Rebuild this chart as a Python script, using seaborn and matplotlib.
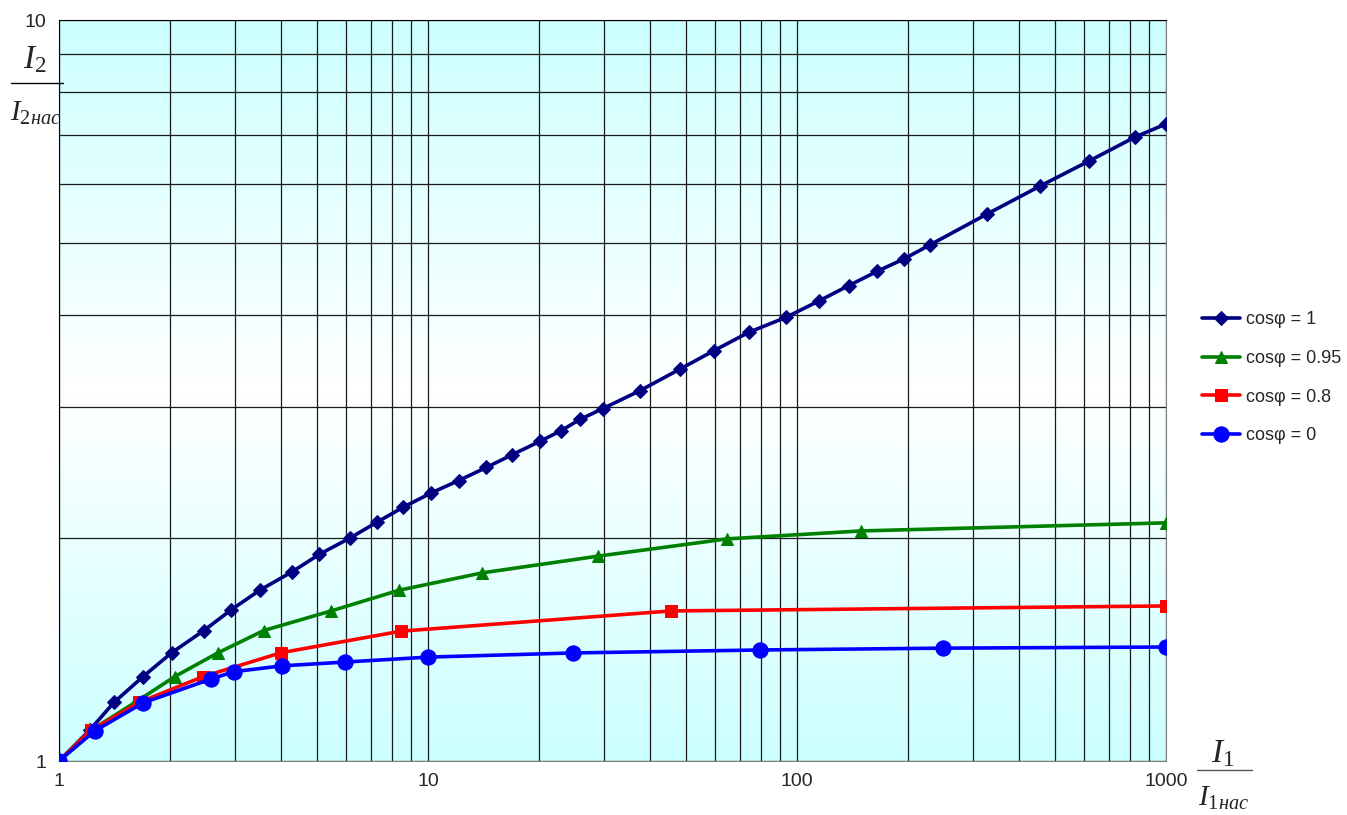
import numpy as np
import pandas as pd
import seaborn as sns
import matplotlib.pyplot as plt
from matplotlib.ticker import LogLocator, FixedLocator, FixedFormatter, NullFormatter
from matplotlib.colors import LinearSegmentedColormap

# cos(phi) = 1
x_c1 = [1, 1.21, 1.41, 1.69, 2.02, 2.47, 2.93, 3.5, 4.28, 5.07, 6.15, 7.27, 8.56, 10.2,
        12.1, 14.4, 16.9, 20.1, 22.9, 25.8, 29.8, 37.5, 48.2, 59.6, 74.1, 93.4, 115, 138,
        165, 195, 229, 327, 456, 618, 824, 1000]
y_c1 = [1, 1.1, 1.2, 1.3, 1.4, 1.5, 1.6, 1.7, 1.8, 1.9, 2.0, 2.1, 2.2, 2.3, 2.39, 2.49,
        2.59, 2.7, 2.79, 2.89, 2.99, 3.16, 3.38, 3.58, 3.79, 3.97, 4.18, 4.38, 4.58, 4.76,
        4.97, 5.47, 5.97, 6.45, 6.95, 7.24]

# cos(phi) = 0.95
x_c095 = [1, 1.22, 1.61, 2.06, 2.7, 3.59, 5.46, 8.35, 14.0, 28.9, 64.6, 149, 1000]
y_c095 = [1, 1.1, 1.2, 1.3, 1.4, 1.5, 1.594, 1.7, 1.794, 1.89, 1.994, 2.044, 2.096]

# cos(phi) = 0.8
x_c08 = [1, 1.22, 1.65, 2.46, 4.0, 8.45, 45.5, 1000]
y_c08 = [1, 1.1, 1.2, 1.3, 1.4, 1.497, 1.594, 1.619]

# cos(phi) = 0
x_c0 = [1, 1.25, 1.69, 2.58, 2.98, 4.02, 5.96, 10, 24.7, 79.4, 249, 1000]
y_c0 = [1, 1.098, 1.198, 1.29, 1.32, 1.344, 1.36, 1.381, 1.399, 1.412, 1.42, 1.425]

labels = ['cosφ = 1', 'cosφ = 0.95', 'cosφ = 0.8', 'cosφ = 0']
colors = ['#000080', '#008000', '#FF0000', '#0000FF']
markers = ['D', '^', 's', 'o']
msizes = [7, 9, 9, 11]

sns.set_style('white')
plt.rcParams['font.family'] = ['Liberation Sans', 'DejaVu Sans']
plt.rcParams['mathtext.fontset'] = 'custom'
plt.rcParams['mathtext.it'] = 'Liberation Serif:italic'
plt.rcParams['mathtext.rm'] = 'Liberation Serif'

fig = plt.figure(figsize=(13.47, 8.15), dpi=100)
ax = fig.add_axes([59 / 1347, 54 / 815, 1107 / 1347, 741 / 815])

# cyan -> white -> cyan background
cmap = LinearSegmentedColormap.from_list('bg', ['#CCFFFF', '#FFFFFF', '#CCFFFF'])
grad = np.linspace(0, 1, 256).reshape(-1, 1)
ax.imshow(grad, cmap=cmap, extent=[0, 1, 0, 1], transform=ax.transAxes,
          aspect='auto', zorder=0, origin='lower')

series = [(x_c1, y_c1), (x_c095, y_c095), (x_c08, y_c08), (x_c0, y_c0)]
for (xs, ys), lab, col, mk, ms in zip(series, labels, colors, markers, msizes):
    df = pd.DataFrame({'x': xs, 'y': ys})
    sns.lineplot(data=df, x='x', y='y', ax=ax, color=col, marker=mk, markersize=ms,
                 markeredgecolor=col, linewidth=2.6, label=lab, sort=False, zorder=3)

ax.set_xscale('log')
ax.set_yscale('log')
ax.set_xlim(1, 1000)
ax.set_ylim(1, 10)

ax.xaxis.set_major_locator(FixedLocator([1, 10, 100, 1000]))
ax.xaxis.set_major_formatter(FixedFormatter(['1', '10', '100', '1000']))
ax.xaxis.set_minor_locator(LogLocator(base=10, subs=np.arange(2, 10)))
ax.xaxis.set_minor_formatter(NullFormatter())
ax.yaxis.set_major_locator(FixedLocator([1, 10]))
ax.yaxis.set_major_formatter(FixedFormatter(['1', '10']))
ax.yaxis.set_minor_locator(LogLocator(base=10, subs=np.arange(2, 10)))
ax.yaxis.set_minor_formatter(NullFormatter())

ax.grid(True, which='both', color='#1a1a1a', linewidth=0.9, zorder=1)
ax.set_axisbelow(True)
ax.tick_params(which='major', length=5, width=1, direction='out', labelsize=14,
               color='#444444', pad=4)
ax.tick_params(which='minor', length=0)
ax.set_xlabel('')
ax.set_ylabel('')
for side in ['top', 'left']:
    ax.spines[side].set_color('black')
for side in ['bottom', 'right']:
    ax.spines[side].set_color('#808080')

leg = ax.legend(loc='center left', bbox_to_anchor=(1.0325, 0.517), frameon=False,
                fontsize=13, handlelength=2.1, labelspacing=1.2, handletextpad=0.35,
                borderaxespad=0, borderpad=0)

# fraction axis labels
fig.text(35 / 1347, 1 - 68 / 815, r'$I_2$', fontsize=24, ha='center', va='baseline')
fig.add_artist(plt.Line2D([11 / 1347, 63 / 1347], [1 - 83 / 815, 1 - 83 / 815],
                          color='black', linewidth=1))
fig.text(36 / 1347, 1 - 121 / 815, r'$I_{2нас}$', fontsize=21, ha='center', va='baseline')

fig.text(1223 / 1347, 1 - 762 / 815, r'$I_1$', fontsize=24, ha='center', va='baseline')
fig.add_artist(plt.Line2D([1197 / 1347, 1252 / 1347], [1 - 770 / 815, 1 - 770 / 815],
                          color='#555555', linewidth=1))
fig.text(1224 / 1347, 1 - 806 / 815, r'$I_{1нас}$', fontsize=21, ha='center', va='baseline')

fig.savefig('out.png', dpi=100)
